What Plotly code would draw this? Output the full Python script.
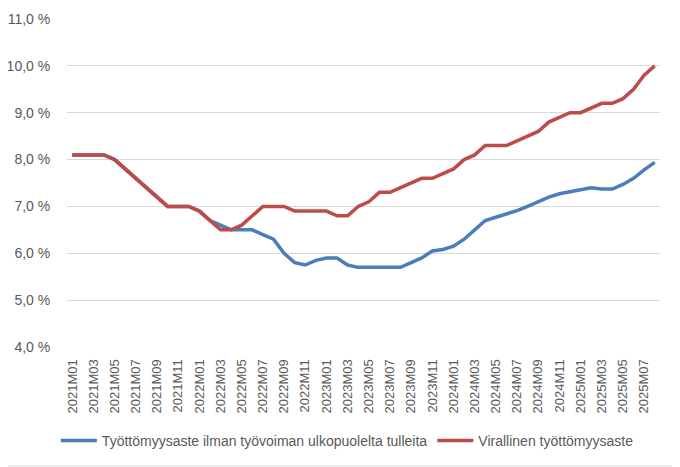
import plotly.graph_objects as go

categories = [f"{y}M{m:02d}" for y in range(2021, 2026) for m in range(1, 13)][:56]

virallinen = [8.1, 8.1, 8.1, 8.1, 8.0, 7.8, 7.6, 7.4, 7.2, 7.0, 7.0, 7.0,
              6.9, 6.7, 6.5, 6.5, 6.6, 6.8, 7.0, 7.0, 7.0, 6.9, 6.9, 6.9,
              6.9, 6.8, 6.8, 7.0, 7.1, 7.3, 7.3, 7.4, 7.5, 7.6, 7.6, 7.7,
              7.8, 8.0, 8.1, 8.3, 8.3, 8.3, 8.4, 8.5, 8.6, 8.8, 8.9, 9.0,
              9.0, 9.1, 9.2, 9.2, 9.3, 9.5, 9.8, 10.0]

ilman_ulkop = [8.1, 8.1, 8.1, 8.1, 8.0, 7.8, 7.6, 7.4, 7.2, 7.0, 7.0, 7.0,
               6.9, 6.7, 6.6, 6.5, 6.5, 6.5, 6.4, 6.3, 6.0, 5.8, 5.75, 5.85,
               5.9, 5.9, 5.75, 5.7, 5.7, 5.7, 5.7, 5.7, 5.8, 5.9, 6.05, 6.08,
               6.15, 6.3, 6.5, 6.7, 6.77, 6.84, 6.91, 7.0, 7.1, 7.2, 7.27, 7.31,
               7.36, 7.4, 7.37, 7.37, 7.47, 7.6, 7.78, 7.94]

series_names = ["Työttömyysaste ilman työvoiman ulkopuolelta tulleita",
                "Virallinen työttömyysaste"]

y_tick_values = [4, 5, 6, 7, 8, 9, 10, 11]
y_tick_labels = ["4,0 %", "5,0 %", "6,0 %", "7,0 %", "8,0 %", "9,0 %", "10,0 %", "11,0 %"]

x_tick_labels = categories[::2]

FONT = "Liberation Sans, Arial, sans-serif"
TXT = "#595959"

fig = go.Figure()
fig.add_trace(go.Scatter(x=categories, y=ilman_ulkop, mode="lines",
                         name=series_names[0],
                         line=dict(color="#4a7ebb", width=3.5)))
fig.add_trace(go.Scatter(x=categories, y=virallinen, mode="lines",
                         name=series_names[1],
                         line=dict(color="#be4b48", width=3.5)))

# page body adds an 8px offset; the figure is sized to fill the remaining window
fig.update_layout(
    width=672, height=459,
    margin=dict(l=59, r=20, t=11, b=120, autoexpand=False),
    paper_bgcolor="white", plot_bgcolor="white",
    font=dict(family=FONT, size=14, color=TXT),
    showlegend=True,
    legend=dict(orientation="h", xref="container", yref="container",
                x=0.505, xanchor="center", y=0.0566, yanchor="middle",
                font=dict(family=FONT, size=14, color=TXT), itemwidth=36,
                bgcolor="rgba(0,0,0,0)"),
    xaxis=dict(type="category", range=[-0.5, len(categories) - 0.5],
               tickmode="array", tickvals=x_tick_labels, ticktext=x_tick_labels,
               tickangle=-90, showgrid=False, showline=False, zeroline=False,
               ticks="outside", ticklen=6, tickcolor="rgba(0,0,0,0)",
               tickfont=dict(family=FONT, size=13, color=TXT)),
    yaxis=dict(range=[4, 11], tickmode="array", tickvals=y_tick_values,
               ticktext=y_tick_labels, showgrid=True, gridcolor="#d9d9d9",
               gridwidth=1, zeroline=False, showline=False,
               ticks="outside", ticklen=13, tickcolor="rgba(0,0,0,0)",
               tickfont=dict(family=FONT, size=14, color=TXT)),
    shapes=[dict(type="line", xref="paper", yref="paper",
                 x0=1.0287, x1=1.0287, y0=-0.3628, y1=1.04,
                 line=dict(color="#d9d9d9", width=1)),
            dict(type="line", xref="paper", yref="paper",
                 x0=-0.1, x1=1.0287, y0=-0.3628, y1=-0.3628,
                 line=dict(color="#d9d9d9", width=1))],
)

fig.write_html("out.html")
